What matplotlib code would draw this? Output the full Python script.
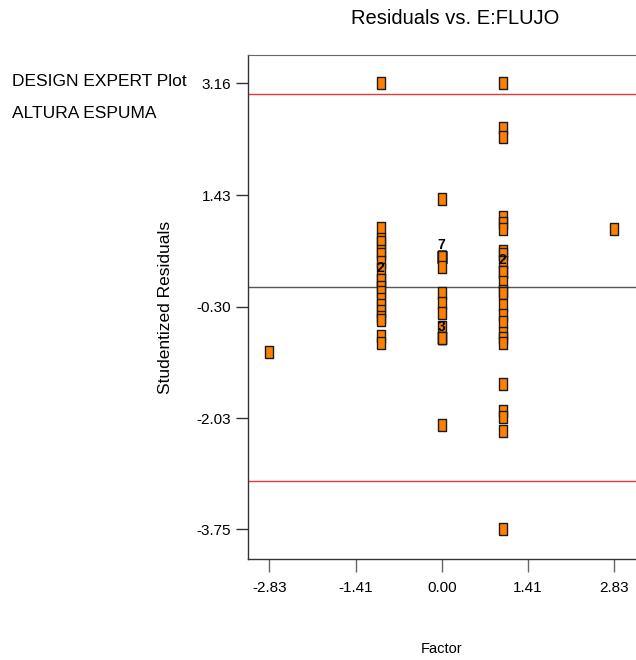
import numpy as np
import matplotlib
matplotlib.use("Agg")
import matplotlib.pyplot as plt

# factor levels (coded) and studentized residuals at each level
level_axial_low = -2.83
level_low = -1.0
level_center = 0.0
level_high = 1.0
level_axial_high = 2.83

res_axial_low = [-1.00]
res_low = [3.16, 0.92, 0.75, 0.70, 0.57, 0.52, 0.39, 0.29, 0.11, 0.11,
           0.00, -0.07, -0.18, -0.28, -0.37, -0.46, -0.50, -0.76, -0.86]
res_center = [1.37, 0.47, 0.47, 0.47, 0.47, 0.47, 0.47, 0.47, 0.31,
              -0.09, -0.24, -0.40, -0.62, -0.79, -0.79, -0.79, -2.13]
res_high = [3.16, 2.47, 2.33, 1.09, 1.00, 0.91, 0.57, 0.52, 0.40, 0.24,
            0.24, 0.08, -0.05, -0.08, -0.27, -0.43, -0.54, -0.71, -0.78,
            -0.86, -1.50, -1.91, -2.01, -2.22, -3.75]
res_axial_high = [0.90]

xtick_vals = [-2.83, -1.41, 0.00, 1.41, 2.83]
ytick_vals = [-3.75, -2.03, -0.30, 1.43, 3.16]
limit_lines = [3.0, -3.0]

plt.rcParams['font.family'] = ['Liberation Sans', 'DejaVu Sans']

x = np.concatenate([
    np.full(len(res_axial_low), level_axial_low),
    np.full(len(res_low), level_low),
    np.full(len(res_center), level_center),
    np.full(len(res_high), level_high),
    np.full(len(res_axial_high), level_axial_high),
])
y = np.concatenate([res_axial_low, res_low, res_center, res_high, res_axial_high])

fig = plt.figure(figsize=(6.36, 6.6), dpi=100)
ax = fig.add_axes([0.390, 0.153, 0.610, 0.7636])

rect = [(-0.4, -0.5), (0.4, -0.5), (0.4, 0.5), (-0.4, 0.5), (-0.4, -0.5)]
ax.plot(x, y, linestyle='none', marker=rect, markersize=8,
        markerfacecolor='#FF8000', markeredgecolor='#1a1a1a',
        markeredgewidth=1.0, zorder=3)

# count labels where several runs share the same residual
pts, counts = np.unique(np.column_stack([x, y]), axis=0, return_counts=True)
for (px, py), c in zip(pts, counts):
    if c > 1:
        ax.annotate(str(c), (px, py), xytext=(0, 8.5), textcoords='offset points',
                    ha='center', va='center', fontsize=10, fontweight='bold',
                    color='black', zorder=4)

for v in limit_lines:
    ax.axhline(v, color='#E53935', linewidth=1.0, zorder=2)
ax.axhline(0, color='#555555', linewidth=1.0, zorder=2)

ax.set_xlim(-3.18, 3.19)
ax.set_ylim(-4.21, 3.60)
ax.set_xticks(xtick_vals)
ax.set_xticklabels([f"{v:.2f}" for v in xtick_vals])
ax.set_yticks(ytick_vals)
ax.set_yticklabels([f"{v:.2f}" for v in ytick_vals])

ax.spines['right'].set_visible(False)
for s in ['left', 'bottom']:
    ax.spines[s].set_color('#333333')
    ax.spines[s].set_linewidth(1.0)
ax.spines['top'].set_color('#666666')

ax.tick_params(axis='y', direction='out', length=9, width=1, color='#333333',
               pad=3, labelsize=11)
ax.tick_params(axis='x', direction='out', length=9, width=1, color='#666666',
               pad=7, labelsize=11)

ax.set_ylabel("Studentized Residuals", fontsize=12.5, labelpad=17)
ax.set_xlabel("Factor", fontsize=10.5, labelpad=34)

fig.text(455 / 636, 1 - 19 / 660, "Residuals vs. E:FLUJO",
         fontsize=14.5, ha='center', va='center')
fig.text(12 / 636, 1 - 82 / 660, "DESIGN EXPERT Plot",
         fontsize=12.5, ha='left', va='center')
fig.text(12 / 636, 1 - 113 / 660, "ALTURA ESPUMA",
         fontsize=12.5, ha='left', va='center')

fig.savefig("out.png", dpi=100, facecolor='white')
